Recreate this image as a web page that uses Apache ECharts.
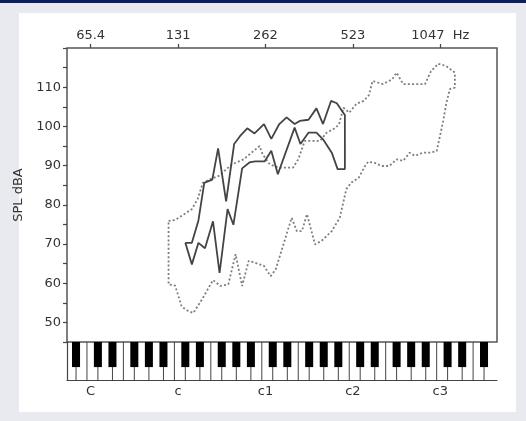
<!DOCTYPE html>
<html><head><meta charset="utf-8">
<script src="https://cdn.jsdelivr.net/npm/echarts@6/dist/echarts.min.js"></script>
<style>
html,body{margin:0;padding:0;width:526px;height:421px;background:#e8eaef;overflow:hidden}
#bar{position:absolute;left:0;top:0;width:526px;height:3px;background:#0c1f5e}
#panel{position:absolute;left:19px;top:13px;width:497px;height:399px;background:#fff}
#chart{position:absolute;left:0;top:0;width:526px;height:421px}
</style></head><body>
<div id="bar"></div><div id="panel"></div><div id="chart"></div>
<script>
// x = semitone (MIDI number), y = SPL dBA
const cNotes = [36, 48, 60, 72, 84];
const freqLabels = ['65.4', '131', '262', '523', '1047  Hz'];
const noteLabels = ['C', 'c', 'c1', 'c2', 'c3'];
const yLabelValues = [50, 60, 70, 80, 90, 100, 110];
const yTickValues = [45, 50, 55, 60, 65, 70, 75, 80, 85, 90, 95, 100, 105, 110, 115, 120];

const solidUpper = [[49.0,70.3],[49.9,70.3],[50.8,76.0],[51.6,85.6],[52.7,86.4],[53.5,94.4],[54.6,80.9],[55.7,95.5],[56.5,97.5],[57.5,99.5],[58.5,98.2],[59.8,100.6],[60.8,96.8],[61.9,100.6],[62.9,102.3],[64.0,100.6],[64.7,101.4],[65.9,101.7],[67.0,104.6],[67.9,100.6],[69.0,106.5],[69.8,105.9],[70.6,103.7],[70.9,102.9]];
const solidLower = [[49.0,70.3],[49.9,64.8],[50.8,70.3],[51.7,68.9],[52.8,75.8],[53.7,62.6],[54.8,78.9],[55.6,74.9],[56.8,89.3],[57.8,90.8],[58.6,91.1],[59.9,91.1],[60.8,93.8],[61.7,87.8],[64.0,99.7],[64.8,95.5],[65.9,98.4],[67.0,98.4],[67.9,96.7],[69.1,93.3],[69.9,89.1],[70.9,89.1]];
const dottedUpper = [[46.7,75.9],[47.6,76.1],[49.9,78.9],[50.7,81.5],[51.4,85.6],[52.4,86.5],[53.6,87.4],[55.4,90.3],[57.0,91.6],[58.8,94.4],[59.2,95.0],[59.6,92.9],[60.6,90.3],[61.7,89.5],[63.8,89.5],[64.5,91.6],[65.4,96.3],[67.5,96.3],[68.4,98.4],[69.5,99.5],[70.1,100.5],[70.7,104.8],[71.5,103.5],[72.5,105.8],[73.5,106.5],[74.2,108.0],[74.7,111.6],[76.1,110.8],[77.4,112.0],[78.0,113.7],[78.9,110.8],[81.9,110.8],[82.7,114.0],[83.7,116.0],[84.8,115.4],[86.0,113.7],[86.0,109.9]];
const dottedLower = [[46.7,59.7],[47.6,59.4],[48.5,54.0],[49.4,52.9],[50.1,52.4],[51.3,55.9],[52.8,60.8],[53.8,59.3],[54.9,59.7],[55.9,67.4],[56.8,59.3],[57.7,65.7],[58.6,65.2],[59.8,64.4],[60.7,61.8],[61.4,63.5],[62.4,69.5],[63.6,76.7],[64.3,73.3],[65.0,73.3],[65.7,77.6],[66.8,69.9],[67.7,70.8],[69.1,73.3],[70.2,76.7],[71.1,84.0],[71.8,85.7],[72.8,86.9],[73.6,89.7],[74.1,91.0],[75.0,90.7],[75.9,89.9],[77.0,89.9],[78.0,91.6],[78.9,91.2],[79.8,93.3],[80.5,92.5],[81.6,93.3],[82.6,93.3],[83.5,93.7],[83.9,97.1],[84.4,101.4],[84.8,105.7],[85.3,109.5]];

const X_MIN = 32.76, X_MAX = 91.78;
const FONT = 'DejaVu Sans';

// piano keyboard layout: separators (kind 0) and black keys (kind 1)
const blackSet = [1, 3, 6, 8, 10];
const keyLines = [], keyBlacks = [];
for (let n = 33; n <= 91; n++) {
  const m = n % 12;
  if (blackSet.indexOf(m) >= 0) { keyLines.push([n, 0]); keyBlacks.push([n, 1]); }
  if (m === 0 || m === 5) keyLines.push([n - 0.5, 0]);
}
const keyData = keyLines.concat(keyBlacks);

const chart = echarts.init(document.getElementById('chart'), null, {renderer: 'canvas'});
chart.setOption({
  animation: false,
  backgroundColor: 'transparent',
  textStyle: {fontFamily: FONT},
  grid: [
    {left: 67, right: 29, top: 48, height: 294, show: true, borderColor: '#555', borderWidth: 1.5, backgroundColor: 'transparent'},
    {left: 67, right: 29, top: 342, height: 38, show: false}
  ],
  xAxis: [
    {type: 'value', gridIndex: 0, position: 'top', min: X_MIN, max: X_MAX,
     axisLine: {show: false}, splitLine: {show: false},
     axisTick: {show: true, customValues: cNotes, length: 4, lineStyle: {color: '#444', width: 1.2}},
     axisLabel: {customValues: cNotes, margin: 6, color: '#333', fontSize: 13, fontFamily: FONT,
       formatter: v => freqLabels[cNotes.indexOf(Math.round(v))] || ''}},
    {type: 'value', gridIndex: 1, position: 'bottom', min: X_MIN, max: X_MAX,
     axisLine: {show: true, onZero: false, lineStyle: {color: '#444', width: 1.2}}, splitLine: {show: false},
     axisTick: {show: false},
     axisLabel: {customValues: cNotes, margin: 5, color: '#333', fontSize: 13, fontFamily: FONT,
       formatter: v => noteLabels[cNotes.indexOf(Math.round(v))] || ''}}
  ],
  yAxis: [
    {type: 'value', gridIndex: 0, min: 45, max: 120,
     axisLine: {show: false}, splitLine: {show: false},
     axisTick: {show: true, customValues: yTickValues, length: 4, lineStyle: {color: '#444', width: 1.2}},
     axisLabel: {customValues: yLabelValues, margin: 6, color: '#333', fontSize: 13, fontFamily: FONT},
     name: 'SPL dBA', nameLocation: 'middle', nameGap: 21, nameRotate: 90,
     nameTextStyle: {color: '#333', fontSize: 13, fontFamily: FONT}},
    {type: 'value', gridIndex: 1, min: 0, max: 1, inverse: true,
     axisLine: {show: true, onZero: false, lineStyle: {color: '#444', width: 1.2}},
     axisTick: {show: false}, axisLabel: {show: false}, splitLine: {show: false}}
  ],
  series: [
    {type: 'line', xAxisIndex: 0, yAxisIndex: 0, symbol: 'none', silent: true,
     data: dottedUpper.concat(dottedLower.slice().reverse(), [dottedUpper[0]]),
     lineStyle: {color: '#7d7d7d', width: 1.8, type: [2, 2.2], cap: 'butt'}},
    {type: 'line', xAxisIndex: 0, yAxisIndex: 0, symbol: 'none', silent: true,
     data: solidUpper.concat(solidLower.slice().reverse()),
     lineStyle: {color: '#444', width: 1.8}},
    {type: 'custom', xAxisIndex: 1, yAxisIndex: 1, silent: true, data: keyData,
     renderItem: function (params, api) {
       const x = api.value(0), kind = api.value(1);
       if (kind === 0) {
         const p0 = api.coord([x, 0]), p1 = api.coord([x, 1]);
         return {type: 'line', shape: {x1: p0[0], y1: p0[1], x2: p1[0], y2: p1[1]}, style: {stroke: '#444', lineWidth: 1}};
       }
       const a = api.coord([x - 0.55, 0]), b = api.coord([x + 0.55, 0.66]);
       return {type: 'rect', shape: {x: a[0], y: a[1], width: b[0] - a[0], height: b[1] - a[1]}, style: {fill: '#000'}};
     }}
  ]
});
</script>
</body></html>
